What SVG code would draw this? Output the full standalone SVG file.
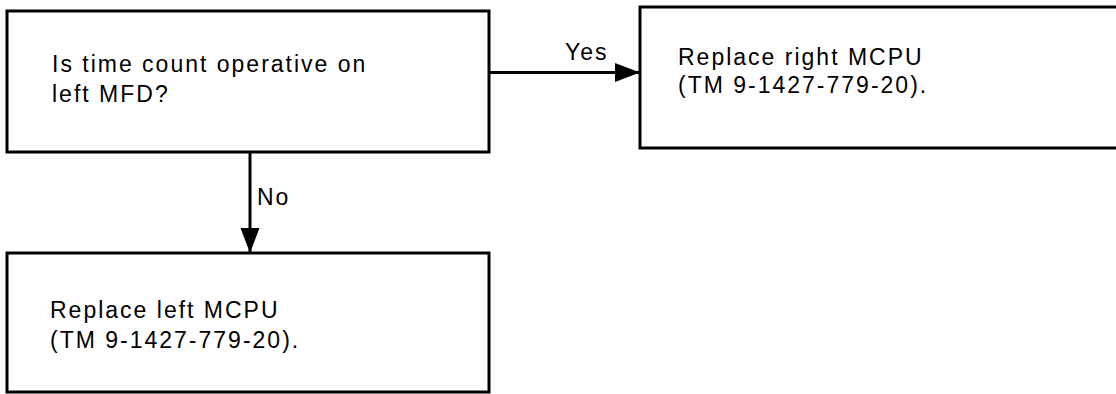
<svg xmlns="http://www.w3.org/2000/svg" width="1116" height="394" viewBox="0 0 1116 394">
<defs>
<style>
.box{fill:#fff;stroke:#000;stroke-width:3}
.t{font-family:"Liberation Sans",Arial,sans-serif;font-size:23px;letter-spacing:2px;fill:#000}
.ln{stroke:#000;stroke-width:3;fill:none}
</style>
<marker id="ah" markerUnits="userSpaceOnUse" markerWidth="26" markerHeight="20" refX="25" refY="9.5" orient="auto">
<path d="M0,0 L25,9.5 L0,19 Z" fill="#000"/>
</marker>
</defs>
<rect width="1116" height="394" fill="#fff"/>
<g id="connectors">
<line class="ln" x1="489" y1="72.5" x2="640" y2="72.5" marker-end="url(#ah)"/>
<line class="ln" x1="250" y1="152" x2="250" y2="253" marker-end="url(#ah)"/>
<text class="t" x="565" y="60">Yes</text>
<text class="t" x="257" y="205">No</text>
</g>
<g id="decision">
<rect class="box" x="7" y="11" width="482" height="141"/>
<text class="t" x="52" y="72">Is time count operative on</text>
<text class="t" x="52" y="102">left MFD?</text>
</g>
<g id="replace-right">
<rect class="box" x="640" y="7" width="480" height="141"/>
<text class="t" x="678" y="65">Replace right MCPU</text>
<text class="t" x="678" y="93">(TM 9-1427-779-20).</text>
</g>
<g id="replace-left">
<rect class="box" x="7" y="253" width="482" height="139"/>
<text class="t" x="50" y="318">Replace left MCPU</text>
<text class="t" x="50" y="348">(TM 9-1427-779-20).</text>
</g>
</svg>
